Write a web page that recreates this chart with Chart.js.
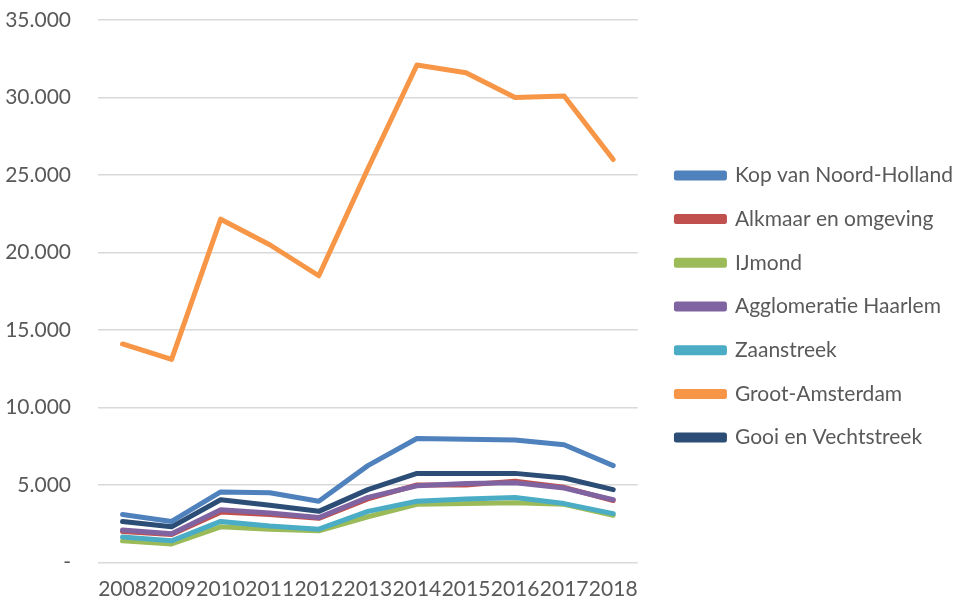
<!DOCTYPE html>
<html>
<head>
<meta charset="utf-8">
<script src="https://cdn.jsdelivr.net/npm/chart.js@4.4.1/dist/chart.umd.min.js"></script>
<style>
  html, body { margin: 0; padding: 0; background: #fff; }
  #wrap { width: 957px; height: 603px; }
</style>
</head>
<body>
<div id="wrap"><canvas id="myChart"></canvas></div>
<script>
const years = ['2008', '2009', '2010', '2011', '2012', '2013', '2014', '2015', '2016', '2017', '2018'];
const regions = ['Kop van Noord-Holland', 'Alkmaar en omgeving', 'IJmond', 'Agglomeratie Haarlem',
    'Zaanstreek', 'Groot-Amsterdam', 'Gooi en Vechtstreek'];

const kopVanNoordHolland = [3100, 2650, 4550, 4500, 3950, 6250, 8000, 7950, 7900, 7600, 6250];
const alkmaarEnOmgeving = [2000, 1800, 3250, 3100, 2850, 4100, 5000, 5000, 5250, 4850, 4000];
const ijmond = [1400, 1200, 2300, 2150, 2050, 2950, 3750, 3800, 3850, 3750, 3050];
const agglomeratieHaarlem = [2100, 1850, 3400, 3200, 2900, 4200, 4950, 5100, 5150, 4800, 4050];
const zaanstreek = [1650, 1400, 2650, 2350, 2150, 3300, 3950, 4100, 4200, 3800, 3150];
const grootAmsterdam = [14100, 13100, 22150, 20500, 18500, 25400, 32100, 31600, 30000, 30100, 26000];
const gooiEnVechtstreek = [2650, 2300, 4050, 3700, 3300, 4700, 5750, 5750, 5750, 5450, 4700];

const yTicks = [0, 5000, 10000, 15000, 20000, 25000, 30000, 35000];

const seriesValues = [kopVanNoordHolland, alkmaarEnOmgeving, ijmond, agglomeratieHaarlem,
    zaanstreek, grootAmsterdam, gooiEnVechtstreek];
const colors = ['#4F81BD', '#C0504D', '#9BBB59', '#8064A2', '#4BACC6', '#F79646', '#2C4D75'];

// later series are painted on top, like in Excel
const datasets = regions.map((name, i) => ({
    label: name,
    data: seriesValues[i],
    borderColor: colors[i],
    backgroundColor: colors[i],
    borderWidth: 5,
    borderCapStyle: 'round',
    borderJoinStyle: 'round',
    pointRadius: 0,
    tension: 0,
    fill: false,
    order: regions.length - i
}));

const fmt = v => v === 0 ? '-' : v.toLocaleString('de-DE');

// nudge the legend a bit away from the plot
const legendShift = {
    id: 'legendShift',
    afterLayout(chart) {
        chart.legend.left += 16;
        chart.legend.right += 16;
        chart.legend.top -= 5;
        chart.legend.bottom -= 5;
    }
};

new Chart(document.getElementById('myChart'), {
    type: 'line',
    data: { labels: years, datasets: datasets },
    plugins: [legendShift],
    options: {
        responsive: true,
        maintainAspectRatio: false,
        animation: false,
        layout: { padding: { left: 6, right: 10, top: 20, bottom: 0 } },
        plugins: {
            tooltip: { enabled: false },
            legend: {
                position: 'right',
                maxWidth: 319,
                labels: {
                    color: '#595959',
                    font: { family: 'Lato', size: 21 },
                    boxWidth: 48,
                    boxHeight: 5,
                    padding: 22.7,
                    sort: (a, b) => a.datasetIndex - b.datasetIndex
                }
            }
        },
        scales: {
            x: {
                offset: true,
                grid: { display: false, drawTicks: false },
                border: { display: false },
                ticks: {
                    color: '#595959',
                    font: { family: 'Lato', size: 21 },
                    maxRotation: 0,
                    autoSkip: false,
                    padding: 14
                },
                afterFit: axis => { axis.height = 40.5; }
            },
            y: {
                min: 0,
                max: 35000,
                afterBuildTicks: axis => { axis.ticks = yTicks.map(v => ({ value: v })); },
                grid: { color: '#D9D9D9', lineWidth: 1.5, drawTicks: false },
                border: { display: false },
                ticks: {
                    color: '#595959',
                    font: { family: 'Lato', size: 21 },
                    padding: 27,
                    callback: v => fmt(v)
                },
                afterFit: axis => {
                    axis.width = 92;
                    axis.paddingTop = 0;
                    axis.paddingBottom = 0;
                }
            }
        }
    }
});
</script>
</body>
</html>
